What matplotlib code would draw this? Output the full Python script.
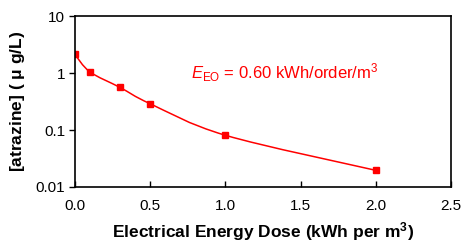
import matplotlib
matplotlib.use('Agg')
import matplotlib.pyplot as plt
import numpy as np
from matplotlib.path import Path
from matplotlib.patches import PathPatch

plt.rcParams['font.family'] = ['Liberation Sans', 'DejaVu Sans']
plt.rcParams['mathtext.fontset'] = 'custom'
plt.rcParams['mathtext.rm'] = 'Liberation Sans'
plt.rcParams['mathtext.it'] = 'Liberation Sans:italic'
plt.rcParams['mathtext.bf'] = 'Liberation Sans:bold'

# Data
dose = [0.0, 0.1, 0.3, 0.5, 1.0, 2.0]
atrazine = [2.13, 1.05, 0.56, 0.29, 0.081, 0.0196]
x_ticks = [0.0, 0.5, 1.0, 1.5, 2.0, 2.5]
y_ticks = [0.01, 0.1, 1, 10]
y_tick_labels = ['0.01', '0.1', '1', '10']

fig = plt.figure(figsize=(4.65, 2.48), dpi=100)
ax = fig.add_axes([0.161, 0.246, 0.809, 0.689])

# Smooth curve (Catmull-Rom -> cubic Bezier) in (x, log y) space
xs = np.array(dose)
ls = np.log10(atrazine)
verts = [(xs[0], atrazine[0])]
codes = [Path.MOVETO]
n = len(xs)
for i in range(n - 1):
    x0, l0 = (xs[i - 1], ls[i - 1]) if i > 0 else (xs[i], ls[i])
    x1, l1 = xs[i], ls[i]
    x2, l2 = xs[i + 1], ls[i + 1]
    x3, l3 = (xs[i + 2], ls[i + 2]) if i + 2 < n else (x2, l2)
    t = 1 / 6
    c1 = (x1 + (x2 - x0) * t, l1 + (l2 - l0) * t)
    c2 = (x2 - (x3 - x1) * t, l2 - (l3 - l1) * t)
    verts += [(c1[0], 10 ** c1[1]), (c2[0], 10 ** c2[1]), (x2, 10 ** l2)]
    codes += [Path.CURVE4] * 3

ax.set_yscale('log')
ax.add_patch(PathPatch(Path(verts, codes), fill=False, edgecolor='#ff0000', lw=1.1))
ax.plot(dose, atrazine, linestyle='none', marker='s', markersize=4.5, color='#ff0000')

ax.set_xlim(0, 2.5)
ax.set_ylim(0.01, 10)
ax.set_xticks(x_ticks)
ax.set_xticklabels([f'{v:.1f}' for v in x_ticks], fontsize=11)
ax.set_yticks(y_ticks)
ax.set_yticklabels(y_tick_labels, fontsize=11)
ax.yaxis.set_minor_locator(matplotlib.ticker.NullLocator())
ax.tick_params(axis='x', direction='in', length=4, width=1, pad=9)
ax.tick_params(axis='y', direction='out', length=4, width=1, pad=3)
for s in ax.spines.values():
    s.set_linewidth(1.2)

ax.set_xlabel(r'Electrical Energy Dose (kWh per m$^{\mathbf{3}}$)', fontsize=12.5, fontweight='bold', labelpad=5)
ax.set_ylabel(r'[atrazine] ( $\mathbf{\mu}$ g/L)', fontsize=12.5, fontweight='bold', labelpad=6)

ax.text(0.775, 1.0, r'$E_{\rm EO}$ = 0.60 kWh/order/m$^3$', color='#ff0000', fontsize=12, va='center')

fig.savefig('out.png', dpi=100)
